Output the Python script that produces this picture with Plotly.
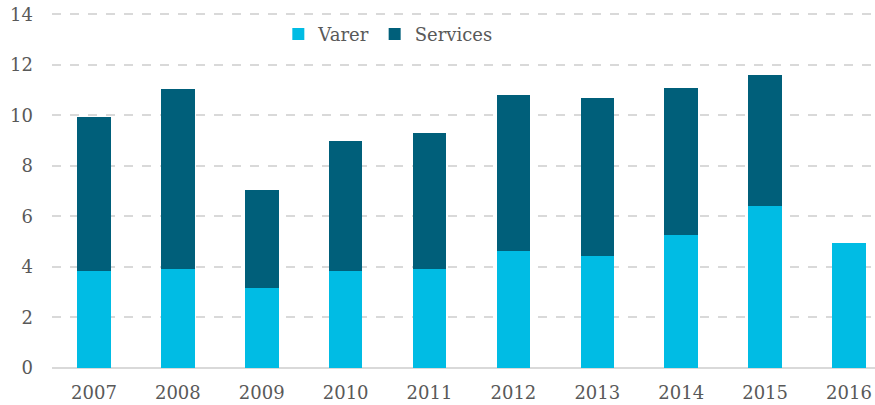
import plotly.graph_objects as go

years = ["2007", "2008", "2009", "2010", "2011", "2012", "2013", "2014", "2015", "2016"]
varer = [3.85, 3.9, 3.15, 3.85, 3.9, 4.65, 4.45, 5.25, 6.4, 4.95]
services = [6.1, 7.15, 3.9, 5.15, 5.4, 6.15, 6.25, 5.85, 5.2, None]

font_family = "Georgia, 'DejaVu Serif', 'Liberation Serif', serif"
text_color = "#595959"

fig = go.Figure()
fig.add_trace(go.Bar(x=years, y=varer, name="Varer", marker=dict(color="#00BCE4", line=dict(width=0))))
fig.add_trace(go.Bar(x=years, y=services, name="Services", marker=dict(color="#005F7A", line=dict(width=0))))

fig.update_layout(
    barmode="stack",
    bargap=0.6,
    width=875,
    height=405,
    margin=dict(l=52, r=0, t=13, b=37),
    paper_bgcolor="white",
    plot_bgcolor="white",
    font=dict(family=font_family, size=17, color=text_color),
    legend=dict(
        orientation="h",
        x=0.275, y=0.94, xanchor="left", yanchor="middle",
        font=dict(size=18, color=text_color),
        bgcolor="rgba(0,0,0,0)",
        traceorder="normal",
    ),
    xaxis=dict(
        type="category",
        range=[-0.5, 9.31],
        showgrid=False,
        showline=False,
        ticks="",
        automargin=False,
        ticklabelstandoff=12,
        tickfont=dict(size=18, color=text_color),
    ),
    yaxis=dict(
        range=[0, 14.05],
        tickvals=[0, 2, 4, 6, 8, 10, 12, 14],
        showgrid=True,
        gridcolor="#D9D9D9",
        gridwidth=2,
        griddash="dash",
        zeroline=True,
        zerolinecolor="#D9D9D9",
        zerolinewidth=2,
        showline=False,
        ticks="",
        automargin=False,
        ticklabelstandoff=18,
        tickfont=dict(size=18, color=text_color),
    ),
)

fig.write_html(
    "out.html",
    config={"displayModeBar": False},
    post_script="document.body.style.margin='0';",
)
